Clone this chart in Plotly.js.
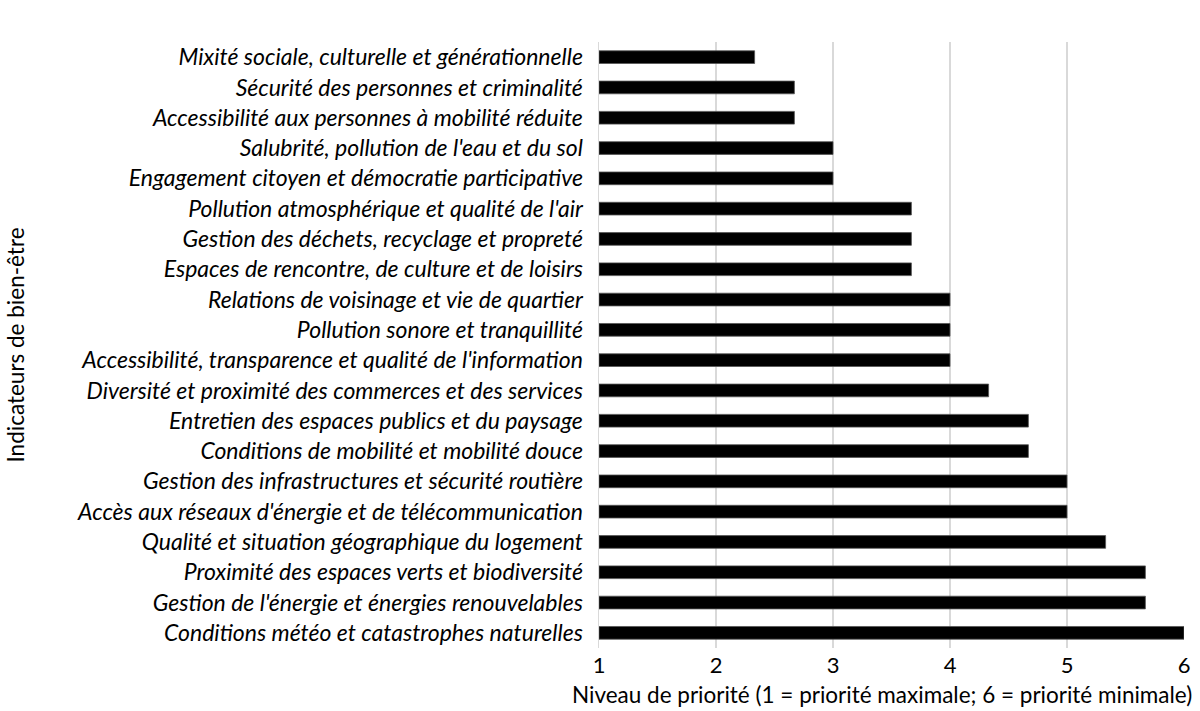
<!DOCTYPE html>
<html><head><meta charset="utf-8">
<script src="https://cdn.plot.ly/plotly-3.0.1.min.js"></script>
<style>body{margin:0;background:#fff}#c{width:1200px;height:711px}</style>
</head><body><div id="c"></div>
<script>
const categories = [
  "Mixité sociale, culturelle et générationnelle",
  "Sécurité des personnes et criminalité",
  "Accessibilité aux personnes à mobilité réduite",
  "Salubrité, pollution de l'eau et du sol",
  "Engagement citoyen et démocratie participative",
  "Pollution atmosphérique et qualité de l'air",
  "Gestion des déchets, recyclage et propreté",
  "Espaces de rencontre, de culture et de loisirs",
  "Relations de voisinage et vie de quartier",
  "Pollution sonore et tranquillité",
  "Accessibilité, transparence et qualité de l'information",
  "Diversité et proximité des commerces et des services",
  "Entretien des espaces publics et du paysage",
  "Conditions de mobilité et mobilité douce",
  "Gestion des infrastructures et sécurité routière",
  "Accès aux réseaux d'énergie et de télécommunication",
  "Qualité et situation géographique du logement",
  "Proximité des espaces verts et biodiversité",
  "Gestion de l'énergie et énergies renouvelables",
  "Conditions météo et catastrophes naturelles"
];
const values = [2.33, 2.67, 2.67, 3, 3, 3.67, 3.67, 3.67, 4, 4, 4, 4.33, 4.67, 4.67, 5, 5, 5.33, 5.67, 5.67, 6];
const xTicks = [1, 2, 3, 4, 5, 6];
const baseValue = 1;
const xTitle = 'Niveau de priorité (1 = priorité maximale; 6 = priorité minimale)';
const yTitle = 'Indicateurs de bien-être';

const trace = {
  type: 'bar',
  orientation: 'h',
  y: categories,
  x: values.map(v => v - baseValue),
  base: baseValue,
  width: 0.42,
  marker: {color: '#000000', line: {color: '#555555', width: 0.8}},
  hoverinfo: 'none'
};

const F = 'Lato, "Open Sans", sans-serif';
const layout = {
  width: 1200, height: 711,
  margin: {l: 599, r: 16, t: 42, b: 63},
  paper_bgcolor: '#fff', plot_bgcolor: '#fff',
  showlegend: false,
  font: {family: F, color: '#000'},
  xaxis: {
    range: [1, 6], tickvals: xTicks, ticktext: xTicks.map(String),
    showgrid: true, gridcolor: '#d9d9d9', gridwidth: 1.5,
    zeroline: false, showline: false, ticks: '',
    tickfont: {size: 22, family: F, color: '#000'},
    ticklabelstandoff: 2
  },
  yaxis: {
    type: 'category', autorange: 'reversed',
    showgrid: false, zeroline: false,
    showline: true, linecolor: '#d9d9d9', linewidth: 1.5,
    ticks: '', ticklabelstandoff: 10,
    tickfont: {size: 23, family: F, style: 'italic', color: '#000'},
    title: {text: yTitle, font: {size: 22.5, family: F, color: '#000'}, standoff: 46}
  },
  annotations: [{
    text: xTitle, xref: 'paper', yref: 'paper',
    x: (882 - 599) / 585, y: (648 - 694) / 606,
    xanchor: 'center', yanchor: 'middle', showarrow: false,
    font: {size: 22.5, family: F, color: '#000'}
  }]
};

Plotly.newPlot('c', [trace], layout, {displayModeBar: false, staticPlot: true});
</script></body></html>
